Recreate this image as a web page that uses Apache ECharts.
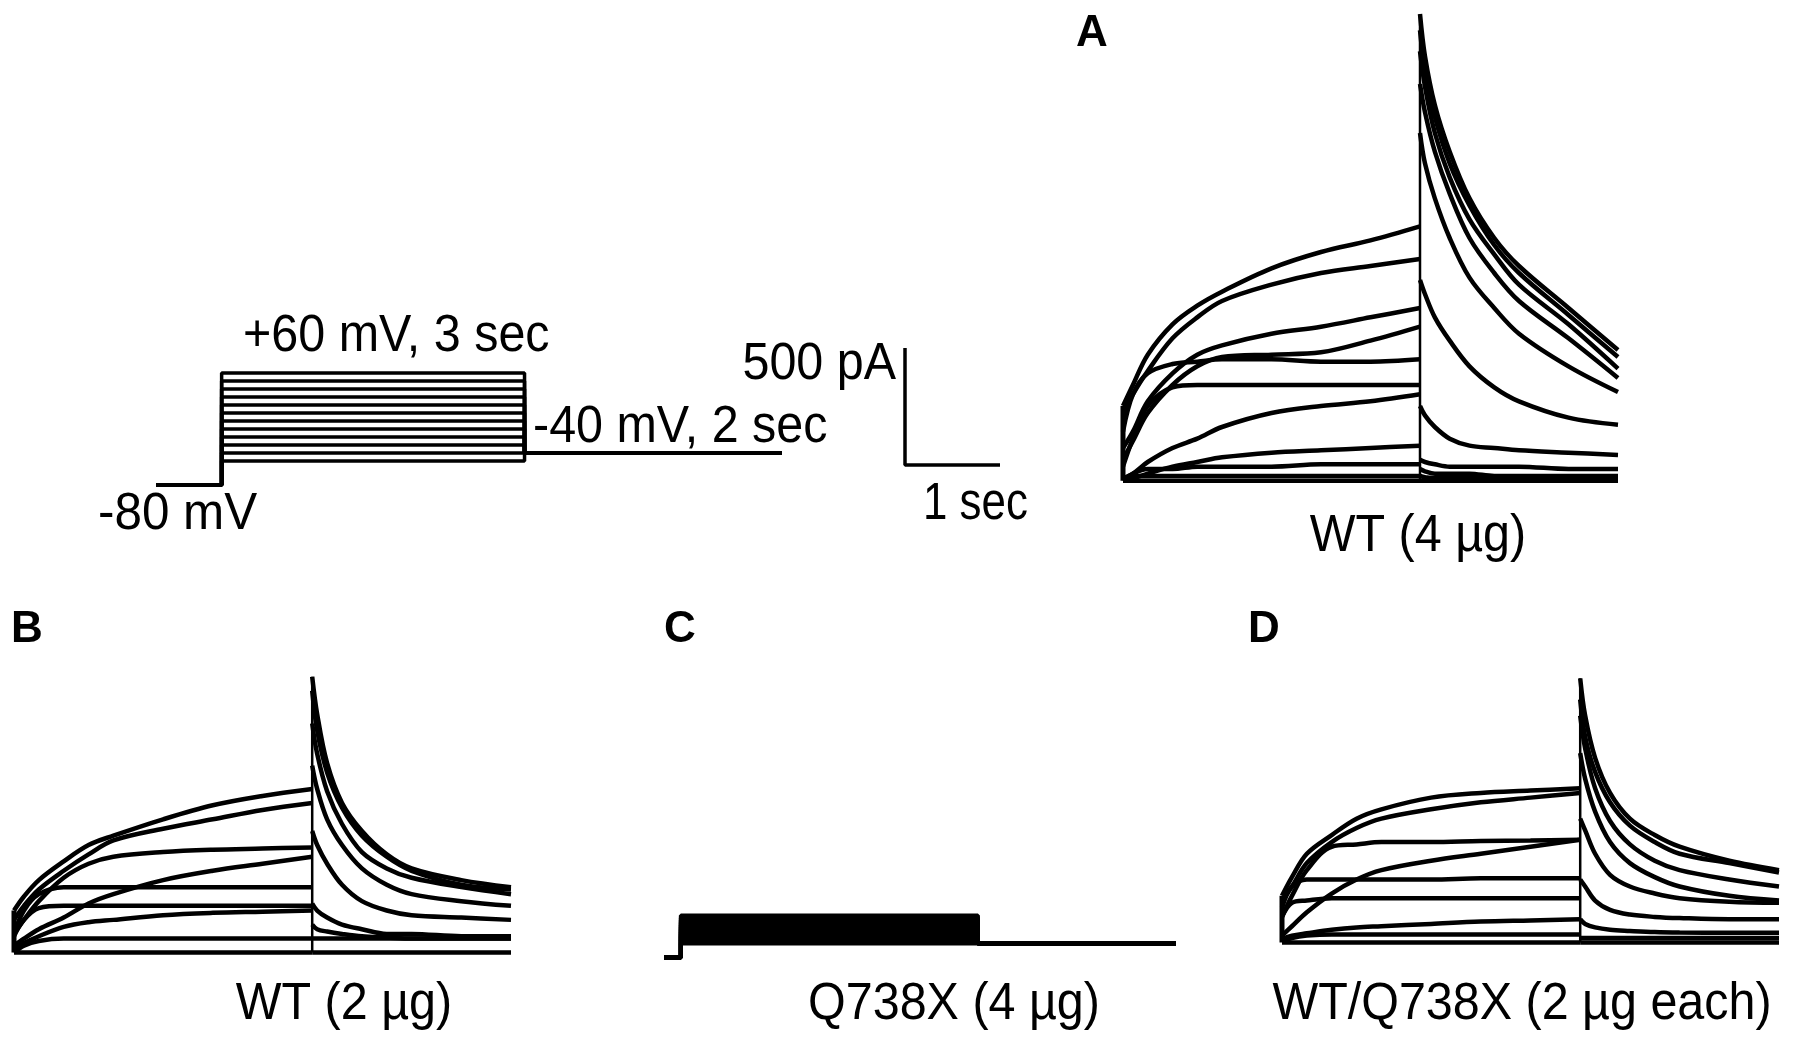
<!DOCTYPE html>
<html>
<head>
<meta charset="utf-8">
<style>
html,body{margin:0;padding:0;background:#fff}
#chart{width:1795px;height:1046px}
</style>
<script src="https://cdn.jsdelivr.net/npm/echarts@6/dist/echarts.min.js"></script>
</head>
<body>
<div id="chart"></div>
<script>
// times (s) at which the traces were read, test pulse and tail at -40 mV
var actT = [0, 0.1, 0.25, 0.5, 0.75, 1, 1.5, 2, 2.5, 3];
var tailT = [3, 3.05, 3.15, 3.3, 3.5, 3.75, 4, 4.5, 5];

// A: WT (4 ug), current in pA
var actA = [
  [320, 410, 540, 670, 750, 810, 910, 980, 1030, 1090],
  [290, 370, 470, 610, 700, 770, 840, 890, 920, 950],
  [140, 210, 340, 460, 540, 580, 630, 660, 700, 740],
  [90, 170, 290, 410, 490, 530, 540, 550, 600, 660],
  [210, 370, 460, 500, 510, 520, 520, 510, 510, 520],
  [60, 180, 320, 400, 410, 410, 410, 410, 410, 410],
  [10, 30, 80, 140, 180, 230, 290, 320, 340, 370],
  [0, 10, 30, 60, 80, 100, 120, 130, 140, 150],
  [0, 30, 50, 50, 60, 60, 60, 70, 70, 70],
  [0, 20, 20, 20, 20, 20, 20, 20, 20, 20],
  [0, 0, 0, 0, 0, 0, 0, 0, 0, 0]
];
var tailA = [
  [2000, 1820, 1610, 1410, 1210, 1040, 920, 740, 560],
  [1930, 1760, 1560, 1360, 1180, 1010, 890, 710, 530],
  [1840, 1690, 1490, 1300, 1120, 970, 840, 670, 480],
  [1700, 1580, 1410, 1230, 1040, 890, 770, 610, 440],
  [1490, 1360, 1210, 1040, 870, 740, 630, 490, 380],
  [860, 800, 700, 600, 490, 400, 340, 270, 240],
  [320, 280, 230, 180, 150, 140, 130, 120, 110],
  [90, 80, 70, 60, 60, 60, 60, 50, 50],
  [50, 40, 30, 30, 30, 20, 20, 20, 20],
  [20, 15, 10, 10, 10, 10, 10, 10, 10],
  [0, 0, 0, 0, 0, 0, 0, 0, 0]
];

// B: WT (2 ug)
var actB = [
  [180, 240, 310, 390, 460, 500, 570, 630, 670, 700],
  [140, 200, 270, 350, 420, 480, 530, 570, 610, 640],
  [80, 140, 220, 320, 380, 410, 430, 440, 445, 450],
  [30, 60, 100, 150, 210, 250, 310, 350, 380, 410],
  [80, 180, 250, 280, 280, 280, 280, 280, 280, 280],
  [70, 140, 190, 200, 200, 200, 200, 200, 200, 200],
  [10, 40, 70, 110, 130, 140, 160, 170, 175, 180],
  [0, 30, 50, 60, 60, 60, 60, 60, 60, 60],
  [0, 0, 0, 0, 0, 0, 0, 0, 0, 0]
];
var tailB = [
  [1180, 1020, 810, 640, 520, 420, 360, 310, 280],
  [1120, 950, 770, 620, 500, 410, 350, 290, 270],
  [980, 850, 690, 550, 430, 360, 320, 280, 250],
  [800, 700, 570, 460, 360, 290, 250, 220, 200],
  [520, 460, 380, 290, 220, 180, 160, 150, 140],
  [210, 180, 150, 120, 100, 80, 80, 70, 70],
  [120, 100, 90, 80, 70, 65, 60, 60, 60],
  [60, 60, 60, 60, 60, 60, 60, 60, 60],
  [0, 0, 0, 0, 0, 0, 0, 0, 0]
];

// C: Q738X (4 ug), flat currents during the pulse, then -40 mV
var levelsC = [60, 75, 90, 100, 110, 120, 130, 140, 150, 160, 170, 180];
var tailC = 60;
var holdTC = -0.17;

// D: WT/Q738X (2 ug each)
var actD = [
  [200, 280, 380, 460, 530, 570, 620, 640, 650, 660],
  [180, 240, 340, 430, 490, 530, 570, 600, 620, 640],
  [110, 200, 310, 410, 420, 430, 430, 435, 437, 440],
  [30, 70, 130, 210, 270, 310, 350, 380, 410, 440],
  [150, 240, 270, 270, 270, 270, 270, 275, 275, 275],
  [110, 170, 180, 190, 190, 190, 190, 190, 190, 190],
  [15, 30, 40, 55, 65, 70, 80, 90, 95, 100],
  [5, 20, 30, 35, 35, 35, 35, 35, 35, 35],
  [0, 0, 0, 0, 0, 0, 0, 0, 0, 0]
];
var tailD = [
  [1130, 970, 790, 640, 530, 460, 410, 350, 310],
  [1040, 880, 730, 600, 500, 430, 380, 340, 300],
  [970, 830, 660, 520, 420, 350, 310, 270, 240],
  [810, 700, 560, 430, 340, 280, 240, 200, 180],
  [530, 480, 380, 290, 240, 210, 190, 175, 170],
  [270, 240, 180, 140, 120, 110, 105, 100, 100],
  [100, 80, 65, 55, 50, 45, 43, 42, 42],
  [20, 20, 20, 20, 20, 20, 20, 20, 20],
  [0, 0, 0, 0, 0, 0, 0, 0, 0]
];

// voltage protocol (mV, s)
var vTest = [-50, -40, -30, -20, -10, 0, 10, 20, 30, 40, 50, 60];
var vHold = -80;
var vTail = -40;
var protoT = [-0.65, 0, 3, 5.55];

// scale bar
var barSec = 1;
var barPA = 500;

var FONT = '"Liberation Sans", Arial, sans-serif';
var ink = '#000';

var grids = [
  {left: 1123, top: 14, width: 495, height: 490},   // A
  {left: 14, top: 672, width: 497, height: 304},    // B
  {left: 664, top: 677, width: 512, height: 304},   // C
  {left: 1282, top: 662, width: 497, height: 304},  // D
  {left: 156, top: 365, width: 626, height: 128},   // protocol
  {left: 905, top: 348, width: 95, height: 117}     // scale bar
];
var xr = [[0, 5], [0, 5], [holdTC, 5], [0, 5], [protoT[0], protoT[3]], [0, barSec]];
var yr = [[-100, 2000], [-100, 1200], [-100, 1200], [-100, 1200], [-90, 70], [0, barPA]];

var xAxes = [], yAxes = [];
for (var g = 0; g < grids.length; g++) {
  xAxes.push({type: 'value', gridIndex: g, min: xr[g][0], max: xr[g][1], show: false});
  yAxes.push({type: 'value', gridIndex: g, min: yr[g][0], max: yr[g][1], show: false});
}

var series = [];
function line(g, data, w, smooth) {
  series.push({
    type: 'line', xAxisIndex: g, yAxisIndex: g, data: data,
    showSymbol: false, symbol: 'none', smooth: smooth || false,
    clip: false, silent: true,
    lineStyle: {color: ink, width: w}
  });
}

// 电流曲线
function traces(g, act, tail) {
  var maxStart = 0, maxPeak = 0;
  for (var k = 0; k < act.length; k++) {
    var a = [], b = [];
    for (var i = 0; i < actT.length; i++) a.push([actT[i], act[k][i]]);
    for (var j = 0; j < tailT.length; j++) b.push([tailT[j], tail[k][j]]);
    line(g, a, 4.5, 0.35);
    line(g, b, 4.5, 0.35);
    maxStart = Math.max(maxStart, act[k][0]);
    maxPeak = Math.max(maxPeak, tail[k][0]);
  }
  line(g, [[0, 0], [0, maxStart]], 5);
  line(g, [[3, 0], [3, maxPeak]], 2.5);
}
traces(0, actA, tailA);
traces(1, actB, tailB);
traces(3, actD, tailD);

for (var c = 0; c < levelsC.length; c++) {
  line(2, [[holdTC, 0], [0, 0], [0, levelsC[c]], [3, levelsC[c]], [3, tailC], [5, tailC]], 4);
}

for (var v = 0; v < vTest.length; v++) {
  line(4, [[protoT[0], vHold], [protoT[1], vHold], [protoT[1], vTest[v]], [protoT[2], vTest[v]], [protoT[2], vTail], [protoT[3], vTail]], 3.5);
}

line(5, [[0, barPA], [0, 0], [barSec, 0]], 3.5);

function txt(s, x, y, size, align, bold, sx) {
  return {
    type: 'text', x: x, y: y, silent: true, scaleX: sx || 0.95,
    style: {
      text: s, fill: ink, align: align || 'left', verticalAlign: 'middle',
      font: (bold ? 'bold ' : '') + size + 'px ' + FONT
    }
  };
}

var graphic = [
  txt('+60 mV, 3 sec', 243, 337, 51),
  txt('-40 mV, 2 sec', 533, 428, 51),
  txt('-80 mV', 98, 515, 52),
  txt('500 pA', 896, 365, 51, 'right'),
  txt('1 sec', 923, 505, 51, 'left', false, 0.86),
  txt('A', 1092, 34, 44, 'center', true, 1),
  txt('WT (4 µg)', 1418, 537, 51, 'center'),
  txt('B', 27, 630, 44, 'center', true, 1),
  txt('C', 680, 630, 44, 'center', true, 1),
  txt('D', 1264, 630, 44, 'center', true, 1),
  txt('WT (2 µg)', 344, 1005, 51, 'center'),
  txt('Q738X (4 µg)', 954, 1005, 51, 'center'),
  txt('WT/Q738X (2 µg each)', 1522, 1005, 51, 'center')
];

var myChart = echarts.init(document.getElementById('chart'));
myChart.setOption({
  animation: false,
  backgroundColor: '#fff',
  grid: grids,
  xAxis: xAxes,
  yAxis: yAxes,
  series: series,
  graphic: graphic
});
</script>
</body>
</html>
